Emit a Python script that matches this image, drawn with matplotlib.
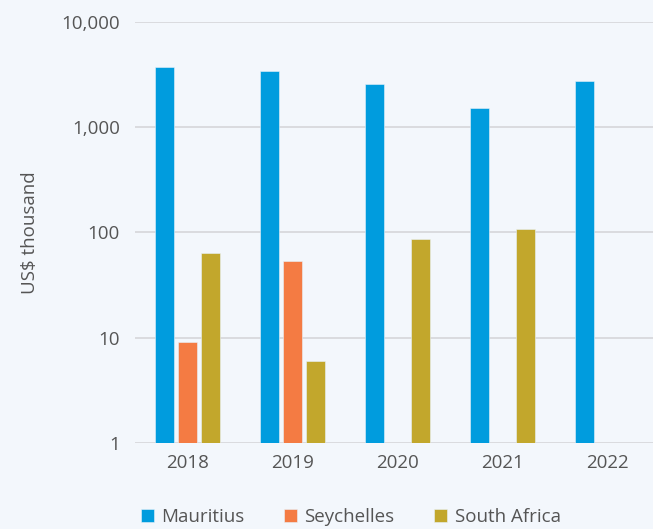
import matplotlib.pyplot as plt
import numpy as np

years = ["2018", "2019", "2020", "2021", "2022"]
countries = ["Mauritius", "Seychelles", "South Africa"]
# US$ thousand, None where no data was reported
mauritius = [3730, 3420, 2575, 1520, 2750]
seychelles = [9.06, 53.7, None, None, None]
south_africa = [64, 5.98, 86.4, 107, None]
colors = ["#009cde", "#f47b43", "#c2a72c"]

bg = "#f3f7fc"
text_color = "#555555"
plt.rcParams["font.family"] = ["Open Sans", "DejaVu Sans"]

fig = plt.figure(figsize=(6.53, 5.29), dpi=100, facecolor=bg)
ax = fig.add_axes([135 / 653, 1 - 442.7 / 529, 1 - 135 / 653, (442.7 - 22) / 529])
ax.set_facecolor(bg)

x = np.arange(len(years))
width = 0.181
step = 0.219
# 2022 has only one country but keeps the same slot layout
for i, (name, vals, col) in enumerate(zip(countries, [mauritius, seychelles, south_africa], colors)):
    xs = [xi + (i - 1) * step for xi, v in zip(x, vals) if v is not None]
    vs = [v for v in vals if v is not None]
    ax.bar(xs, vs, width, color=col, label=name, edgecolor="#e8f2fa", linewidth=0.4, zorder=3)

ax.set_yscale("log")
ax.set_ylim(1, 10000)
ax.set_xlim(-0.5, 4.43)
ax.set_yticks([1, 10, 100, 1000, 10000])
ax.set_yticklabels(["1", "10", "100", "1,000", "10,000"])
ax.minorticks_off()
ax.set_xticks(x)
ax.set_xticklabels(years)
ax.tick_params(axis="y", length=0, pad=11, labelsize=13.5, labelcolor=text_color)
ax.tick_params(axis="x", length=0, pad=8, labelsize=13.5, labelcolor=text_color)
ax.grid(axis="y", color="#d8d9dc", linewidth=1.3, zorder=0)
for s in ax.spines.values():
    s.set_visible(False)

ax.set_ylabel("US$ thousand", fontsize=13.5, color=text_color)
ax.yaxis.set_label_coords(-0.185, 0.5)

fig.legend(loc="center", bbox_to_anchor=(0.537, 0.023), ncol=3, frameon=False,
           fontsize=13.5, labelcolor=text_color, handlelength=0.7, handleheight=0.7,
           handletextpad=0.4, columnspacing=2.1)

fig.savefig("out.png", dpi=100, facecolor=bg)
